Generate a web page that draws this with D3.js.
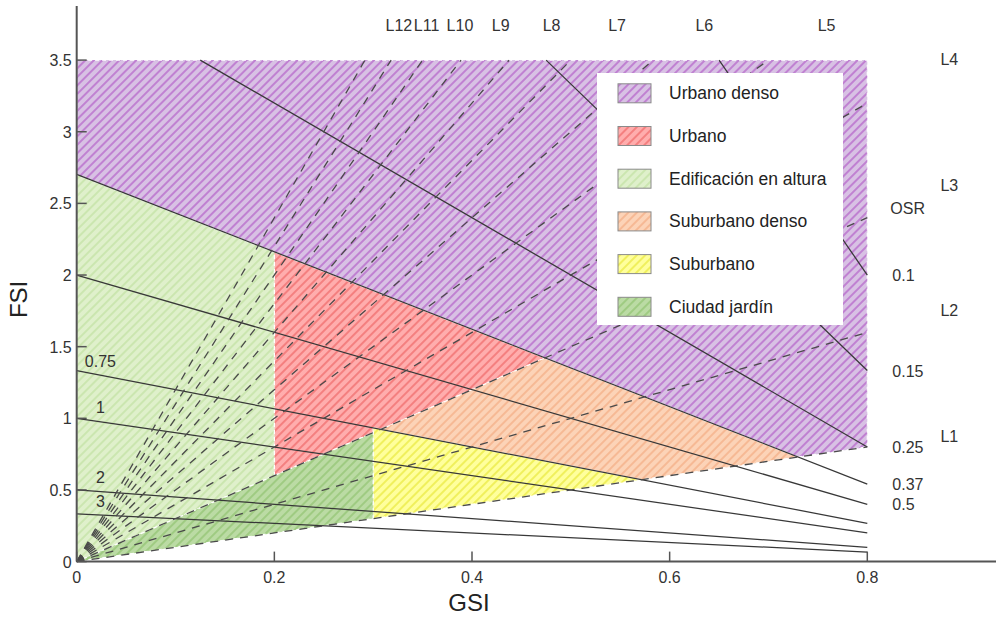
<!DOCTYPE html>
<html><head><meta charset="utf-8">
<script src="https://cdn.jsdelivr.net/npm/d3@7"></script>
<style>body{margin:0;background:#fff;} svg{display:block;font-family:"Liberation Sans",Arial,sans-serif;}</style>
</head><body>
<svg id="chart" width="998" height="617"></svg>
<script>
// ---- data ----
const xTicks = [0, 0.2, 0.4, 0.6, 0.8];
const yTicks = [0, 0.5, 1, 1.5, 2, 2.5, 3, 3.5];
const osrValues = [0.1, 0.15, 0.25, 0.37, 0.5, 0.75, 1, 2, 3];
const osrRightLabels = ["0.1", "0.15", "0.25", "0.37", "0.5"];
const osrLeftLabels = ["0.75", "1", "2", "3"];
const layerValues = [1, 2, 3, 4, 5, 6, 7, 8, 9, 10, 11, 12];
const topLayerLabels = [5, 6, 7, 8, 9, 10, 11, 12];
const rightLayerLabels = [1, 2, 3, 4];
const regionNames = ["Urbano denso", "Urbano", "Edificación en altura", "Suburbano denso", "Suburbano", "Ciudad jardín"];
const urbanoDenso = [[0, 2.7], [0, 3.5], [0.8, 3.5], [0.8, 0.8], [0.7297, 0.7297]];
const urbano = [[0.2, 0.6], [0.2, 2.16], [0.4737, 1.4211]];
const edificacionAltura = [[0, 0], [0, 2.7], [0.2, 2.16], [0.2, 0.6]];
const suburbanoDenso = [[0.3, 0.9], [0.4737, 1.4211], [0.7297, 0.7297], [0.5714, 0.5714], [0.3, 0.9333]];
const suburbano = [[0.3, 0.3], [0.3, 0.9333], [0.5714, 0.5714]];
const ciudadJardin = [[0, 0], [0.3, 0.9], [0.3, 0.3]];
const regionPolys = [urbanoDenso, urbano, edificacionAltura, suburbanoDenso, suburbano, ciudadJardin];
const regionFill = ["#d8c1e4", "#ffadad", "#dff0cb", "#fcd3b7", "#ffff9c", "#bbdba4"];
const regionStripe = ["#b45ec8", "#ef6767", "#c0e1a1", "#f3ab82", "#e8e83a", "#90c370"];

// ---- drawing ----
const svg = d3.select("#chart");
const x = d3.scaleLinear().domain([0, 0.8]).range([76.7, 867.3]);
const y = d3.scaleLinear().domain([0, 3.5]).range([561.6, 60.1]);
const defs = svg.append("defs");

regionNames.forEach((n, i) => {
  const p = defs.append("pattern").attr("id", "hatch" + i)
    .attr("patternUnits", "userSpaceOnUse").attr("width", 6).attr("height", 6)
    .attr("patternTransform", "rotate(45)");
  p.append("rect").attr("width", 6).attr("height", 6).attr("fill", regionFill[i]);
  p.append("line").attr("x1", 1).attr("y1", 0).attr("x2", 1).attr("y2", 6)
    .attr("stroke", regionStripe[i]).attr("stroke-width", 1.3);
});

const line = d3.line().x(d => x(d[0])).y(d => y(d[1]));

// regions
svg.append("g").selectAll("path").data(regionPolys).join("path")
  .attr("d", d => line(d) + "Z")
  .attr("fill", (d, i) => `url(#hatch${i})`)
  .attr("stroke", "#fff").attr("stroke-width", 1.2).attr("stroke-dasharray", "4,3");

// OSR lines
const osrSeg = o => { const g0 = Math.max(0, 1 - 3.5 * o); return [[g0, (1 - g0) / o], [0.8, 0.2 / o]]; };
svg.append("g").selectAll("path").data(osrValues).join("path")
  .attr("d", o => line(osrSeg(o))).attr("fill", "none")
  .attr("stroke", "#383838").attr("stroke-width", 1.25);

// Layer lines
const laySeg = L => { const g1 = Math.min(0.8, 3.5 / L); return [[0, 0], [g1, L * g1]]; };
svg.append("g").selectAll("path").data(layerValues).join("path")
  .attr("d", L => line(laySeg(L))).attr("fill", "none")
  .attr("stroke", "#4a4a4a").attr("stroke-width", 1.3).attr("stroke-dasharray", "8,7");

// axes
const axG = svg.append("g").attr("stroke", "#555").attr("stroke-width", 2);
axG.append("line").attr("x1", x(0)).attr("x2", 996).attr("y1", y(0)).attr("y2", y(0));
axG.append("line").attr("x1", x(0)).attr("x2", x(0)).attr("y1", y(0)).attr("y2", 6);
svg.append("g").selectAll("line").data(xTicks).join("line")
  .attr("x1", d => x(d)).attr("x2", d => x(d)).attr("y1", y(0)).attr("y2", y(0) - 10)
  .attr("stroke", "#555").attr("stroke-width", 1.5);
svg.append("g").selectAll("line").data(yTicks).join("line")
  .attr("x1", x(0)).attr("x2", x(0) + 10).attr("y1", d => y(d)).attr("y2", d => y(d))
  .attr("stroke", "#555").attr("stroke-width", 1.5);
svg.append("g").selectAll("text").data(xTicks).join("text")
  .attr("x", d => x(d)).attr("y", y(0) + 21).attr("text-anchor", "middle")
  .attr("font-size", 16).attr("fill", "#333").text(d => String(d));
svg.append("g").selectAll("text").data(yTicks).join("text")
  .attr("x", x(0) - 5).attr("y", d => y(d) + 6).attr("text-anchor", "end")
  .attr("font-size", 16).attr("fill", "#333").text(d => String(d));
svg.append("text").attr("x", 469).attr("y", 611).attr("text-anchor", "middle")
  .attr("font-size", 24).attr("fill", "#222").text("GSI");
svg.append("text").attr("transform", `translate(27,${y(1.83)}) rotate(-90)`).attr("text-anchor", "middle")
  .attr("font-size", 24).attr("fill", "#222").text("FSI");

// OSR labels
const lab = svg.append("g").attr("font-size", 16).attr("fill", "#333");
lab.selectAll("text.r").data(osrRightLabels).join("text").attr("class", "r")
  .attr("x", x(0.8) + 25).attr("y", d => y(0.2 / +d) + 6).text(d => d);
lab.append("text").attr("x", x(0.8) + 23).attr("y", y(2.47) + 6).text("OSR");
lab.selectAll("text.l").data(osrLeftLabels).join("text").attr("class", "l")
  .attr("x", x(0.024)).attr("y", d => y((1 - 0.024) / +d + 0.1) + 6).attr("text-anchor", "middle").text(d => d);
lab.selectAll("text.t").data(topLayerLabels).join("text").attr("class", "t")
  .attr("x", L => x(3.71 / L + 0.0168)).attr("y", y(3.745) + 6).attr("text-anchor", "middle").text(L => "L" + L);
lab.selectAll("text.rl").data(rightLayerLabels).join("text").attr("class", "rl")
  .attr("x", x(0.883)).attr("y", L => y(L * 0.877) + 6).attr("text-anchor", "middle").text(L => "L" + L);

// legend
const lg = svg.append("g");
lg.append("rect").attr("x", 597).attr("y", 73).attr("width", 246).attr("height", 252).attr("fill", "#fff");
const items = lg.selectAll("g").data(regionNames).join("g")
  .attr("transform", (d, i) => `translate(618,${93.3 + i * 42.7})`);
items.append("rect").attr("x", 0).attr("y", -9.5).attr("width", 33).attr("height", 19)
  .attr("fill", (d, i) => `url(#hatch${i})`).attr("stroke", "#8a8a8a").attr("stroke-width", 1);
items.append("text").attr("x", 51).attr("y", 6).attr("font-size", 17.5).attr("fill", "#222").text(d => d);
</script>
</body></html>
